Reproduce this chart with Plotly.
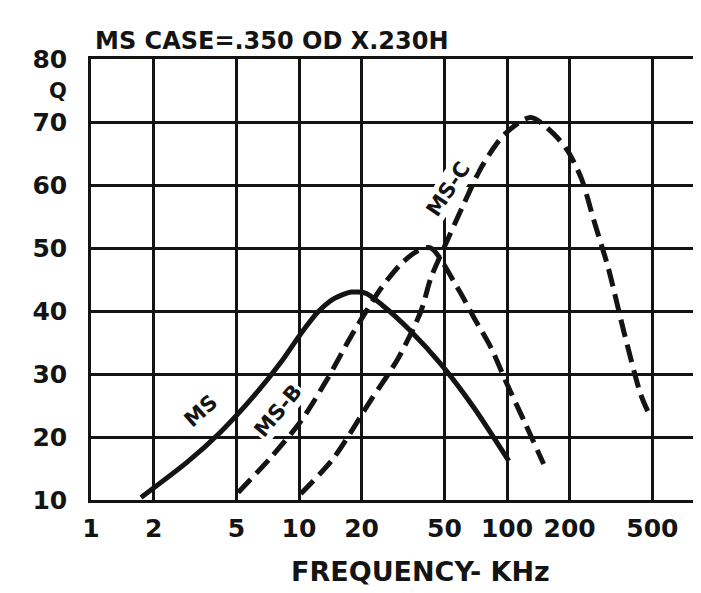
import numpy as np
import plotly.graph_objects as go

# Data (frequency in kHz, Q)
ms_freq = [1.74, 2.9, 4.2, 6.1, 8.2, 10.2, 12.3, 14.8, 17.8, 21, 25, 34.5, 48, 69.5, 102]
ms_q = [10.4, 16, 20.8, 26.6, 31.9, 36.4, 39.8, 42, 43, 42.8, 41, 36.8, 31.6, 24.6, 16.2]

msb_freq = [5.1, 7.3, 10.2, 13.8, 17.8, 24.8, 31, 37, 43, 58, 69.5, 84, 100, 121, 150]
msb_q = [11.2, 16.7, 22.5, 29.4, 36, 43.6, 47.5, 49.5, 50, 43.6, 38.9, 34.1, 28.4, 22.5, 15.7]

msc_freq = [10.2, 14.7, 22, 30, 38.6, 43, 49.7, 62, 75, 97, 130, 169, 196, 228, 262, 307, 366, 439, 475]
msc_q = [11, 16.7, 25.7, 32.5, 40, 45.2, 50, 57, 62.7, 68, 70.7, 68, 65.4, 61, 54.3, 46.8, 36.5, 26.8, 24.1]

x_ticks = [1, 2, 5, 10, 20, 50, 100, 200, 500]
x_tick_labels = ["1", "2", "5", "10", "20", "50", "100", "200", "500"]
y_ticks = [10, 20, 30, 40, 50, 60, 70, 80]

FONT = "DejaVu Sans"
INK = "#141414"


def f(size):
    return dict(family=FONT, size=size, color=INK, weight="bold")


fig = go.Figure()
fig.add_trace(go.Scatter(x=ms_freq, y=ms_q, mode="lines",
                         line=dict(color=INK, width=5, shape="spline", smoothing=0.7), showlegend=False))
fig.add_trace(go.Scatter(x=msb_freq, y=msb_q, mode="lines",
                         line=dict(color=INK, width=5, dash="18px,8px", shape="spline", smoothing=0.8), showlegend=False))
fig.add_trace(go.Scatter(x=msc_freq, y=msc_q, mode="lines",
                         line=dict(color=INK, width=5, dash="18px,8px", shape="spline", smoothing=0.8), showlegend=False))

fig.update_layout(
    width=701, height=593,
    margin=dict(l=83, r=7, t=51, b=101),
    paper_bgcolor="white", plot_bgcolor="white",
    font=f(22),
    xaxis=dict(type="log", range=[0, 2.9375], tickvals=x_ticks, ticktext=x_tick_labels,
               showgrid=True, gridcolor=INK, gridwidth=2.5, showline=True, linecolor=INK, linewidth=2.5,
               mirror=True, ticks="outside", ticklen=4, tickcolor="rgba(0,0,0,0)",
               tickfont=f(25), zeroline=False, automargin=False),
    yaxis=dict(range=[10, 80], tickvals=y_ticks, showgrid=True, gridcolor=INK, gridwidth=2.5,
               showline=True, linecolor=INK, linewidth=2.5, ticks="outside", ticklen=16,
               tickcolor="rgba(0,0,0,0)", tickfont=f(25), zeroline=False, automargin=False),
)

fig.add_annotation(text="MS CASE=.350 OD X.230H", xref="paper", yref="paper", x=0.004, y=1.0,
                   xanchor="left", yanchor="bottom", yshift=2, showarrow=False, font=f(24))
fig.add_annotation(text="Q", xref="paper", yref="y", x=-0.072, y=75, showarrow=False, font=f(21))
fig.add_annotation(text="FREQUENCY- KHz", xref="paper", yref="paper", x=0.54, y=-0.161,
                   xanchor="center", yanchor="middle", showarrow=False, font=f(27))

fig.add_annotation(text="MS", x=np.log10(3.38), y=24.1, textangle=-42, showarrow=False, font=f(21))
fig.add_annotation(text="MS-B", x=np.log10(7.93), y=24.1, textangle=-50, showarrow=False,
                   font=f(21), bgcolor="white")
fig.add_annotation(text="MS-C", x=np.log10(52.2), y=59.4, textangle=-56, showarrow=False,
                   font=f(21), bgcolor="white")

fig.write_html("out.html")
